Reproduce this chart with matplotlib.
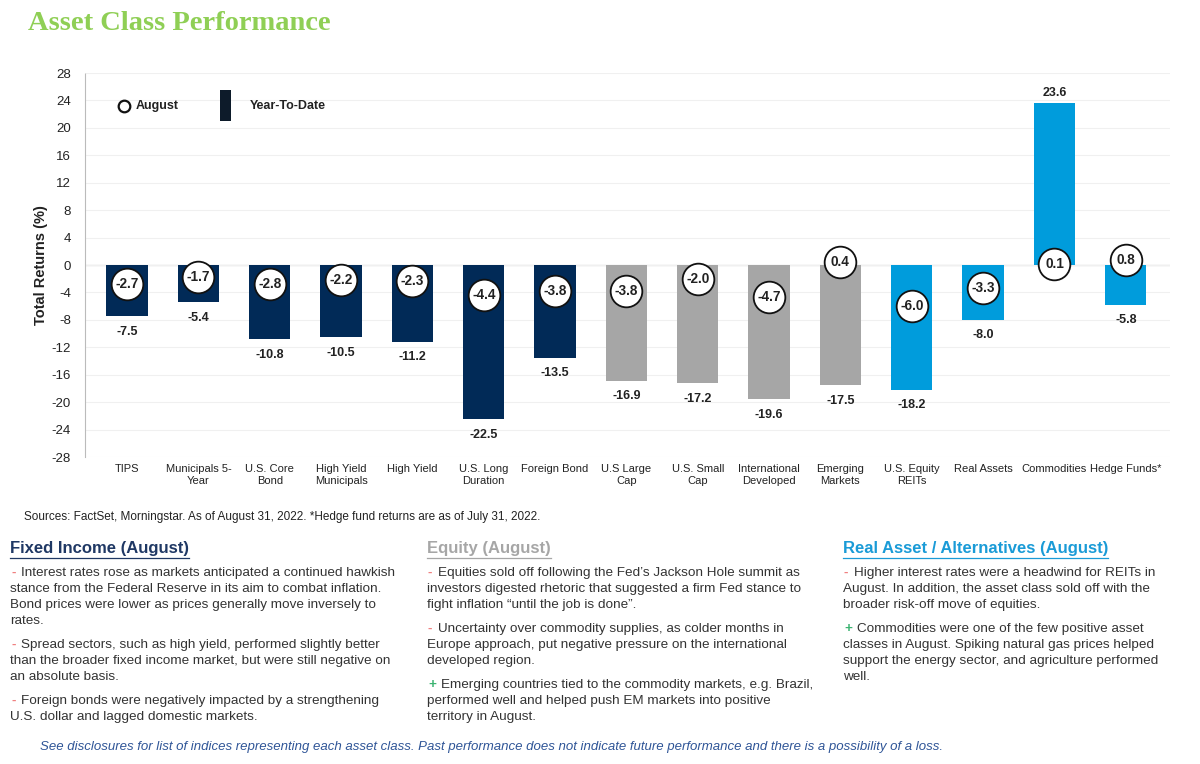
import numpy as np
import matplotlib.pyplot as plt
from matplotlib.lines import Line2D
from matplotlib.patches import Rectangle

plt.rcParams['font.family'] = ['Liberation Sans', 'DejaVu Sans']

# data
categories = ['TIPS', 'Municipals 5-\nYear', 'U.S. Core\nBond', 'High Yield\nMunicipals',
              'High Yield', 'U.S. Long\nDuration', 'Foreign Bond', 'U.S Large\nCap',
              'U.S. Small\nCap', 'International\nDeveloped', 'Emerging\nMarkets',
              'U.S. Equity\nREITs', 'Real Assets', 'Commodities', 'Hedge Funds*']
ytd = [-7.5, -5.4, -10.8, -10.5, -11.2, -22.5, -13.5, -16.9, -17.2, -19.6, -17.5,
       -18.2, -8.0, 23.6, -5.8]
august = [-2.7, -1.7, -2.8, -2.2, -2.3, -4.4, -3.8, -3.8, -2.0, -4.7, 0.4,
          -6.0, -3.3, 0.1, 0.8]
groups = ['fi'] * 7 + ['eq'] * 4 + ['ra'] * 4
yticks = list(range(-28, 29, 4))

navy = '#012a57'
grey = '#a6a6a6'
blue = '#009cdc'
group_colors = {'fi': navy, 'eq': grey, 'ra': blue}

W, H = 1200, 764


def fx(px):
    return px / W


def fy(py):
    return 1 - py / H


def main():
    fig = plt.figure(figsize=(12, 7.64), dpi=100)
    ax = fig.add_axes([fx(85), fy(457), 1085 / W, 384 / H])

    x = np.arange(len(categories))
    colors = [group_colors[g] for g in groups]
    ax.bar(x, ytd, width=0.58, color=colors, zorder=2)

    # august circles
    ax.scatter(x, august, s=520, facecolor='white', edgecolor='#111111',
               linewidth=1.3, zorder=4)
    for xi, a in zip(x, august):
        ax.text(xi, a, '%.1f' % a, ha='center', va='center', fontsize=9.8,
                fontweight='bold', color='#222222', zorder=5)

    # ytd labels
    for xi, v in zip(x, ytd):
        if v < 0:
            ax.text(xi, v - 1.4, '%.1f' % v, ha='center', va='top', fontsize=9,
                    fontweight='bold', color='#222222')
        else:
            ax.text(xi, v + 0.6, '%.1f' % v, ha='center', va='bottom', fontsize=9,
                    fontweight='bold', color='#222222')

    ax.set_xlim(-0.59, 14.62)
    ax.set_ylim(-28, 28)
    ax.set_yticks(yticks)
    ax.set_yticklabels([str(t) for t in yticks], fontsize=9.5, color='#222222')
    ax.set_xticks(x)
    ax.set_xticklabels(categories, fontsize=8, color='#222222', linespacing=1.2)
    ax.tick_params(length=0, pad=10)
    ax.tick_params(axis='x', pad=5)
    ax.yaxis.grid(True, color='#f0f0f0', linewidth=0.8, zorder=0)
    ax.axhline(0, color='#c8c8c8', linewidth=0.9, zorder=1)
    for s in ['top', 'right', 'bottom']:
        ax.spines[s].set_visible(False)
    ax.spines['left'].set_color('#bbbbbb')
    ax.spines['left'].set_linestyle((0, (1, 1)))
    ax.spines['left'].set_linewidth(0.8)
    ax.set_ylabel('Total Returns (%)', fontsize=10.5, fontweight='bold',
                  color='#222222', labelpad=3)

    # legend
    ax.scatter([0.036], [0.914], s=70, facecolor='white', edgecolor='#111111',
               linewidth=1.6, transform=ax.transAxes, zorder=5, clip_on=False)
    ax.text(0.047, 0.914, 'August', transform=ax.transAxes, fontsize=9,
            fontweight='bold', va='center', color='#222222')
    ax.add_patch(Rectangle((0.1244, 0.875), 0.0102, 0.081, transform=ax.transAxes,
                           facecolor='#0d1b2a', edgecolor='none', zorder=5))
    ax.text(0.152, 0.914, 'Year-To-Date', transform=ax.transAxes, fontsize=9,
            fontweight='bold', va='center', color='#222222')

    # title
    fig.text(fx(28), fy(23), 'Asset Class Performance', fontsize=20.5,
             fontweight='bold', color='#8fcf55', va='center',
             family=['Liberation Serif', 'DejaVu Serif'])

    fig.text(fx(24), fy(517), 'Sources: FactSet, Morningstar. As of August 31, 2022. '
             '*Hedge fund returns are as of July 31, 2022.', fontsize=8.5,
             color='#222222', va='center')

    body = '#333333'
    red = '#f08080'
    green = '#3cb371'
    lh = 16

    def column(x0, title, tcolor, paras):
        t = fig.text(fx(x0), fy(549), title, fontsize=12, fontweight='bold',
                     color=tcolor, va='center')
        fig.canvas.draw()
        bb = t.get_window_extent()
        fig.add_artist(Line2D([fx(x0), fx(x0 + bb.width)], [fy(558), fy(558)],
                              color=tcolor, linewidth=0.9))
        y = 573
        for sign, lines in paras:
            fig.text(fx(x0 + 1), fy(y), sign, fontsize=9.7, fontweight='bold',
                     color=red if sign == '-' else green, va='center')
            for i, ln in enumerate(lines):
                if i == 0:
                    xx = x0 + (11 if sign == '-' else 14)
                else:
                    xx = x0
                fig.text(fx(xx), fy(y), ln, fontsize=9.7, color=body, va='center')
                y += lh
            y += 8

    column(10, 'Fixed Income (August)', '#1f3864', [
        ('-', ['Interest rates rose as markets anticipated a continued hawkish',
               'stance from the Federal Reserve in its aim to combat inflation.',
               'Bond prices were lower as prices generally move inversely to',
               'rates.']),
        ('-', ['Spread sectors, such as high yield, performed slightly better',
               'than the broader fixed income market, but were still negative on',
               'an absolute basis.']),
        ('-', ['Foreign bonds were negatively impacted by a strengthening',
               'U.S. dollar and lagged domestic markets.']),
    ])
    column(427, 'Equity (August)', '#a6a6a6', [
        ('-', ['Equities sold off following the Fed\u2019s Jackson Hole summit as',
               'investors digested rhetoric that suggested a firm Fed stance to',
               'fight inflation \u201cuntil the job is done\u201d.']),
        ('-', ['Uncertainty over commodity supplies, as colder months in',
               'Europe approach, put negative pressure on the international',
               'developed region.']),
        ('+', ['Emerging countries tied to the commodity markets, e.g. Brazil,',
               'performed well and helped push EM markets into positive',
               'territory in August.']),
    ])
    column(843, 'Real Asset / Alternatives (August)', '#1a9bd7', [
        ('-', ['Higher interest rates were a headwind for REITs in',
               'August. In addition, the asset class sold off with the',
               'broader risk-off move of equities.']),
        ('+', ['Commodities were one of the few positive asset',
               'classes in August. Spiking natural gas prices helped',
               'support the energy sector, and agriculture performed',
               'well.']),
    ])

    fig.text(fx(40), fy(747), 'See disclosures for list of indices representing each '
             'asset class. Past performance does not indicate future performance and '
             'there is a possibility of a loss.', fontsize=9.5, style='italic',
             color='#2f5597', va='center')

    fig.savefig('out.png', dpi=100)


if __name__ == '__main__':
    main()
